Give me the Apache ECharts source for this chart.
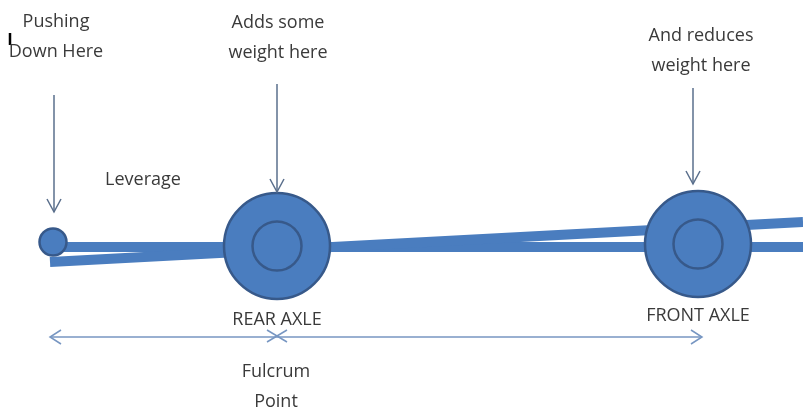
<!DOCTYPE html>
<html><head><meta charset="utf-8">
<script src="https://cdn.jsdelivr.net/npm/echarts@6/dist/echarts.min.js"></script>
<style>html,body{margin:0;padding:0;background:#fff}#c{width:803px;height:411px}</style>
</head><body><div id="c"></div>
<script>
// Diagram data: diagram units (x to the right, y downward) on an 803 x 411 plane
const levelBeam = [[53, 247], [803, 247]];
const tiltedBeam = [[50, 262], [803, 222]];
const pushBall = [[53, 242]];
const axleNames = ['REAR AXLE', 'FRONT AXLE'];
const axleX = [277, 698];
const axleY = [246, 244];
const axleLabelPos = [[277, 320], [698, 316]];
const forceTexts = ['Pushing\nDown Here', 'Adds some\nweight here', 'And reduces\nweight here'];
const forceTextPos = [[56, 37], [278, 38], [701, 51]];
const forceArrows = [[54, 95, 54, 212], [277, 84, 277, 192], [693, 88, 693, 184]];
const leverageText = ['Leverage'];
const leveragePos = [[143, 180]];
const fulcrumText = ['Fulcrum\nPoint'];
const fulcrumPos = [[276, 387]];
const spanArrow = [[50, 337, 702, 337]];
const fulcrumMark = [[277, 336]];
const cursorMark = [[10, 33, 10, 45]];

const BLUE = '#4a7dbf';
const DARK = '#37598a';
const TEXT = '#3a3a3a';
const FONT = '18px "Open Sans"';

function zipXY(xs, ys) { return xs.map((x, i) => [x, ys[i]]); }

function arrowSeries(data, color, width, headLen, headHalf, both, z) {
  return {
    type: 'custom', coordinateSystem: 'cartesian2d', silent: true, z: z,
    data: data, encode: { x: [0, 2], y: [1, 3] },
    renderItem: function (params, api) {
      const a = api.coord([api.value(0), api.value(1)]);
      const b = api.coord([api.value(2), api.value(3)]);
      const dx = b[0] - a[0], dy = b[1] - a[1];
      const L = Math.sqrt(dx * dx + dy * dy);
      const ux = dx / L, uy = dy / L, nx = -uy, ny = ux;
      const st = { stroke: color, lineWidth: width, fill: null };
      const kids = [{ type: 'line', shape: { x1: a[0], y1: a[1], x2: b[0], y2: b[1] }, style: st }];
      function head(p, s) {
        kids.push({ type: 'polyline', shape: { points: [
          [p[0] - s * ux * headLen + nx * headHalf, p[1] - s * uy * headLen + ny * headHalf],
          [p[0], p[1]],
          [p[0] - s * ux * headLen - nx * headHalf, p[1] - s * uy * headLen - ny * headHalf]
        ] }, style: st });
      }
      if (headLen > 0) head(b, 1);
      if (both) head(a, -1);
      return { type: 'group', children: kids };
    }
  };
}

function textSeries(texts, positions, z) {
  return {
    type: 'custom', coordinateSystem: 'cartesian2d', silent: true, z: z,
    data: positions.map((p, i) => [p[0], p[1], i]), encode: { x: 0, y: 1 },
    renderItem: function (params, api) {
      const p = api.coord([api.value(0), api.value(1)]);
      return { type: 'text', x: p[0], y: p[1], style: {
        text: texts[params.dataIndex], fill: TEXT, font: FONT,
        align: 'center', verticalAlign: 'middle', lineHeight: 30 } };
    }
  };
}

const chart = echarts.init(document.getElementById('c'), null, { renderer: 'canvas' });
chart.setOption({
  animation: false,
  backgroundColor: '#ffffff',
  grid: { left: 0, right: 0, top: 0, bottom: 0 },
  xAxis: { type: 'value', min: 0, max: 803, show: false },
  yAxis: { type: 'value', min: 0, max: 411, inverse: true, show: false },
  series: [
    { type: 'line', data: levelBeam, showSymbol: false, silent: true, z: 2,
      lineStyle: { color: BLUE, width: 10, cap: 'butt' } },
    { type: 'line', data: tiltedBeam, showSymbol: false, silent: true, z: 2,
      lineStyle: { color: BLUE, width: 10, cap: 'butt' } },
    { type: 'scatter', data: pushBall, symbolSize: 27, silent: true, z: 3,
      itemStyle: { color: BLUE, borderColor: DARK, borderWidth: 2.5, opacity: 1 } },
    { type: 'scatter', data: zipXY(axleX, axleY), symbolSize: 106, silent: true, z: 3,
      itemStyle: { color: BLUE, borderColor: DARK, borderWidth: 2.5, opacity: 1 } },
    { type: 'scatter', data: zipXY(axleX, axleY), symbolSize: 49, silent: true, z: 4,
      itemStyle: { color: BLUE, borderColor: DARK, borderWidth: 2.5, opacity: 1 } },
    arrowSeries(forceArrows, '#5a6f8c', 1.5, 13, 7, false, 5),
    arrowSeries(spanArrow, '#7796c2', 1.5, 11, 7, true, 5),
    arrowSeries(cursorMark, '#000000', 2.5, 0, 0, false, 6),
    {
      type: 'custom', coordinateSystem: 'cartesian2d', silent: true, z: 5,
      data: fulcrumMark, encode: { x: 0, y: 1 },
      renderItem: function (params, api) {
        const p = api.coord([api.value(0), api.value(1)]);
        const st = { stroke: '#7796c2', lineWidth: 1.5 };
        return { type: 'group', children: [
          { type: 'line', shape: { x1: p[0] - 10, y1: p[1] - 6, x2: p[0] + 10, y2: p[1] + 6 }, style: st },
          { type: 'line', shape: { x1: p[0] - 10, y1: p[1] + 6, x2: p[0] + 10, y2: p[1] - 6 }, style: st }
        ] };
      }
    },
    textSeries(forceTexts, forceTextPos, 6),
    textSeries(axleNames, axleLabelPos, 6),
    textSeries(leverageText, leveragePos, 6),
    textSeries(fulcrumText, fulcrumPos, 6)
  ]
});
</script></body></html>
